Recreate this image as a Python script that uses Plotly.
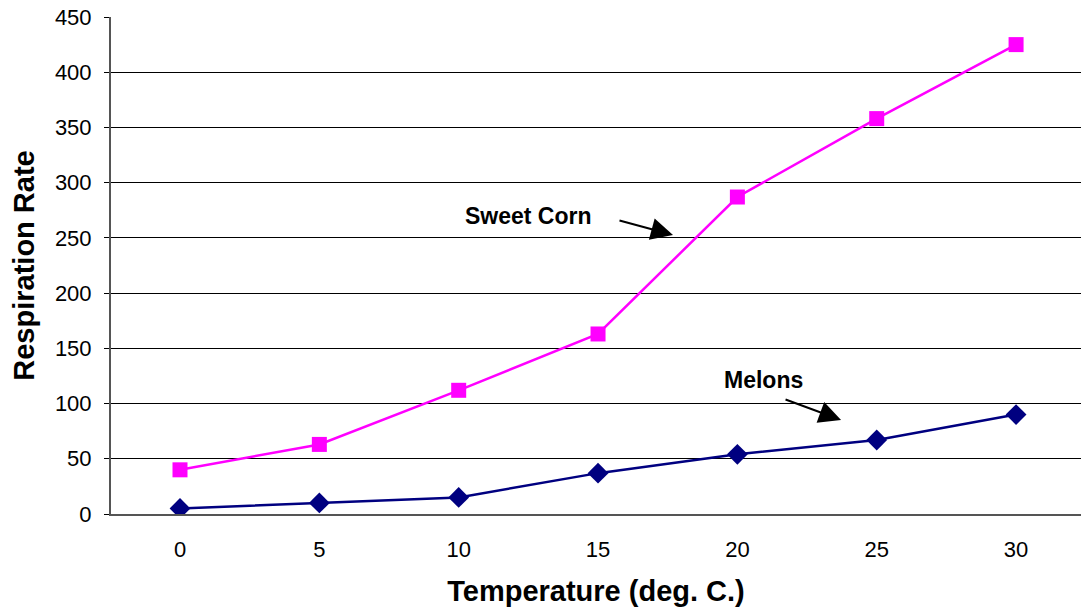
import plotly.graph_objects as go

temps = [0, 5, 10, 15, 20, 25, 30]
sweet_corn = [40, 63, 112, 163, 287, 358, 425]
melons = [5, 10, 15, 37, 54, 67, 90]
y_ticks = [0, 50, 100, 150, 200, 250, 300, 350, 400, 450]

FONT = "Liberation Sans, Arial, sans-serif"

fig = go.Figure()
fig.add_trace(go.Scatter(
    x=temps, y=melons, mode="lines+markers", name="Melons",
    line=dict(color="#000080", width=2.5),
    marker=dict(symbol="diamond", size=16, color="#000080"),
))
fig.add_trace(go.Scatter(
    x=temps, y=sweet_corn, mode="lines+markers", name="Sweet Corn",
    line=dict(color="#FF00FF", width=2.5),
    marker=dict(symbol="square", size=15, color="#FF00FF"),
))

fig.update_layout(
    width=1081, height=613,
    margin=dict(l=111, r=0, t=17, b=99),
    paper_bgcolor="white", plot_bgcolor="white",
    showlegend=False,
    font=dict(family=FONT, color="black"),
    xaxis=dict(
        range=[-2.476, 32.33], tickvals=temps, ticktext=[str(t) for t in temps],
        showgrid=False, zeroline=False, showline=True, linecolor="#555555", linewidth=2,
        ticks="", ticklabelstandoff=15, tickfont=dict(size=22, family=FONT),
        title=dict(text="<b>Temperature (deg. C.)</b>", font=dict(size=29, family=FONT), standoff=19),
    ),
    yaxis=dict(
        range=[0, 450], tickvals=y_ticks,
        showgrid=True, gridcolor="black", gridwidth=1, zeroline=False,
        showline=True, linecolor="#555555", linewidth=2,
        ticks="outside", ticklen=5, tickcolor="black", tickfont=dict(size=22, family=FONT),
        ticklabelstandoff=8,
        title=dict(text="<b>Respiration Rate</b>", font=dict(size=29, family=FONT), standoff=12),
    ),
    annotations=[
        dict(x=12.52, y=270, text="<b>Sweet Corn</b>", showarrow=False,
             font=dict(size=23, family=FONT, color="black")),
        dict(x=17.69, y=252.6, text="", showarrow=True, arrowhead=2, arrowsize=2.2,
             arrowwidth=2, arrowcolor="black", ax=-55, ay=-15),
        dict(x=20.92, y=121.3, text="<b>Melons</b>", showarrow=False,
             font=dict(size=23, family=FONT, color="black")),
        dict(x=23.72, y=85.1, text="", showarrow=True, arrowhead=2, arrowsize=2.2,
             arrowwidth=2, arrowcolor="black", ax=-57, ay=-21),
    ],
)

fig.write_html("out.html")
